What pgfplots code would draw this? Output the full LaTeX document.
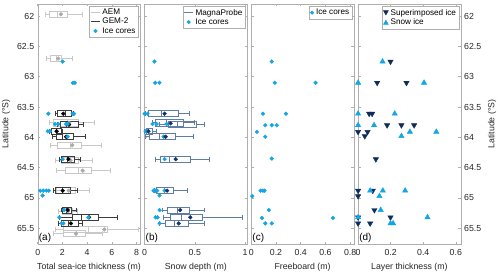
\documentclass[border=0pt]{standalone}
\usepackage{fontspec}
\setmainfont{Liberation Sans}
\usepackage{pgfplots}
\pgfplotsset{compat=1.18}
\usepgfplotslibrary{statistics}

\definecolor{aemc}{RGB}{200,200,200}
\definecolor{aemm}{RGB}{170,170,170}
\definecolor{gemc}{RGB}{60,60,60}
\definecolor{gemm}{RGB}{0,0,0}
\definecolor{icec}{RGB}{20,165,230}
\definecolor{mpc}{RGB}{95,125,165}
\definecolor{mpm}{RGB}{20,50,100}
\definecolor{sic}{RGB}{15,45,90}
\definecolor{axc}{RGB}{175,175,175}

\newcommand{\bx}[7]{\addplot[#1, line width=0.6pt, forget plot, boxplot prepared={draw position=#2, lower whisker=#3, lower quartile=#4, median=#5, upper quartile=#6, upper whisker=#7}] coordinates {};}

\pgfplotsset{
  panel/.style={
    scale only axis, width=102.6bp, height=240bp,
    anchor=south west,
    ymin=61.8, ymax=65.76, y dir=reverse,
    ytick={62,62.5,63,63.5,64,64.5,65,65.5},
    axis line style={axc}, tick style={axc, line width=0.5pt},
    tick align=inside, major tick length=2.5bp,
    every tick label/.append style={font=\fontsize{8.8}{10}\selectfont, text=black!85},
    label style={font=\fontsize{8.8}{10}\selectfont, text=black!85},
    xticklabel style={yshift=-1.5bp},
    xlabel style={yshift=-1.5bp},
    /pgf/number format/assume math mode=true,
    clip=false,
    boxplot/draw direction=x,
    boxplot/box extend=0.1,
    boxplot/whisker extend=0.08,
    xtick pos=both,
    legend style={at={(0.985,0.992)}, anchor=north east, draw=axc, fill=white,
      font=\fontsize{8.2}{9}\selectfont, inner sep=1pt, row sep=-2pt, legend cell align=left},
    legend image code/.code={\draw[#1] (0bp,0bp) -- (9bp,0bp);},
  },
  dots/.style={only marks, mark=*, mark size=1.9bp, color=#1, mark options={draw=#1, fill=#1}, forget plot},
}

\begin{document}
\begin{tikzpicture}
\useasboundingbox (0,0) rectangle (500bp,274bp);

% ---------------- (a) ----------------
\begin{axis}[panel, at={(37.7bp,30bp)}, xmin=0, xmax=8.3, xtick={0,2,4,6,8},
  xlabel={Total sea-ice thickness (m)}, ylabel={Latitude (°S)}, yticklabel pos=left]
\addlegendimage{aemc, line width=0.8pt}\addlegendentry{AEM}
\addlegendimage{gemc, line width=0.8pt}\addlegendentry{GEM-2}
\addlegendimage{only marks, mark=*, mark size=1.6bp, icec, legend image code/.code={\fill[icec] (4.5bp,0bp) circle (1.8bp);}}\addlegendentry{Ice cores}
% AEM
\bx{aemc}{61.97}{0.65}{0.94}{1.6}{2.39}{3.64}
\bx{aemc}{62.70}{0.67}{1.05}{1.5}{1.94}{2.83}
\bx{aemc}{63.76}{0.95}{1.26}{2.4}{3.28}{4.58}
\bx{aemc}{64.13}{1.05}{1.58}{2.6}{3.56}{5.17}
\bx{aemc}{64.38}{1.4}{1.9}{2.6}{3.3}{4.4}
\bx{aemc}{64.55}{1.53}{2.21}{3.3}{4.37}{5.9}
\bx{aemc}{64.88}{1.5}{2.0}{2.6}{3.02}{4.17}
\bx{aemc}{65.22}{1.7}{2.0}{2.4}{2.8}{3.2}
\bx{aemc}{65.52}{1.4}{2.07}{4.09}{5.63}{8.1}
\bx{aemc}{65.59}{1.3}{2.07}{3.1}{3.88}{5.2}
\addplot[dots=aemm] coordinates {(1.88,61.97) (1.66,62.70) (2.55,63.76) (2.80,64.13) (2.65,64.38) (3.64,64.55) (2.5,64.88) (2.45,65.22) (5.39,65.52) (3.1,65.59)};
% GEM-2
\bx{gemc}{63.61}{1.4}{1.58}{2.2}{2.69}{2.9}
\bx{gemc}{63.79}{1.6}{1.86}{2.3}{3.28}{3.69}
\bx{gemc}{63.90}{0.95}{1.13}{1.5}{1.88}{2.0}
\bx{gemc}{63.99}{1.2}{1.48}{2.0}{2.88}{3.82}
\bx{gemc}{64.36}{1.72}{1.88}{2.4}{2.93}{3.42}
\bx{gemc}{64.88}{1.3}{1.40}{2.0}{2.61}{3.2}
\bx{gemc}{65.20}{1.94}{2.02}{2.35}{2.69}{3.1}
\bx{gemc}{65.32}{1.78}{2.83}{3.56}{4.9}{6.4}
\bx{gemc}{65.42}{1.7}{1.94}{2.5}{3.28}{3.6}
\addplot[dots=gemm] coordinates {(2.07,63.61) (2.53,63.79) (1.53,63.90) (2.3,63.99) (2.48,64.36) (2.02,64.88) (2.43,65.20) (4.15,65.32) (2.69,65.42)};
% ice cores
\addplot[dots=icec] coordinates {(2.02,62.75) (2.85,63.10) (3.0,63.10) (0.86,63.61) (2.83,63.61) (2.94,63.61)
 (1.40,63.78) (1.67,63.78) (2.29,63.78) (2.43,63.78) (0.81,63.90) (0.99,63.90) (2.42,63.99) (2.02,64.36)
 (0.2,64.88) (0.45,64.88) (0.7,64.88) (0.9,64.88) (0.4,64.96) (2.13,65.20) (1.75,65.32) (4.1,65.32) (1.94,65.42) (2.07,65.42)};
\node[anchor=south west, font=\fontsize{10}{11}\selectfont, inner sep=1pt] at (axis description cs:0,0) {(a)};
\end{axis}

% ---------------- (b) ----------------
\begin{axis}[panel, at={(144.5bp,30bp)}, xmin=0, xmax=1.02, xtick={0,0.5,1},
  xlabel={Snow depth (m)}, yticklabels={}]
\addlegendimage{mpc, line width=0.8pt}\addlegendentry{MagnaProbe}
\addlegendimage{only marks, mark=*, icec, legend image code/.code={\fill[icec] (4.5bp,0bp) circle (1.8bp);}}\addlegendentry{Ice cores}
\bx{mpc}{63.61}{0.01}{0.04}{0.17}{0.34}{0.45}
\bx{mpc}{63.76}{0.08}{0.11}{0.22}{0.39}{0.50}
\bx{mpc}{63.79}{0.15}{0.24}{0.33}{0.51}{0.59}
\bx{mpc}{63.90}{0.0}{0.02}{0.04}{0.08}{0.12}
\bx{mpc}{63.99}{0.01}{0.05}{0.15}{0.31}{0.49}
\bx{mpc}{64.36}{0.11}{0.16}{0.25}{0.455}{0.64}
\bx{mpc}{64.88}{0.10}{0.115}{0.20}{0.29}{0.43}
\bx{mpc}{65.20}{0.18}{0.23}{0.33}{0.445}{0.59}
\bx{mpc}{65.32}{0.19}{0.26}{0.37}{0.57}{0.97}
\bx{mpc}{65.42}{0.15}{0.21}{0.30}{0.435}{0.59}
\addplot[dots=icec] coordinates {(0.099,62.75) (0.106,63.10) (0.149,63.10) (0.0,63.61) (0.03,63.61)
 (0.08,63.78) (0.12,63.78) (0.22,63.78) (0.01,63.90) (0.03,63.90) (0.19,63.99) (0.2,64.36)
 (0.09,64.88) (0.11,64.88) (0.125,64.88) (0.2,64.88) (0.149,64.96) (0.15,65.20) (0.11,65.32) (0.13,65.32) (0.15,65.42)};
\addplot[dots=mpm] coordinates {(0.20,63.61) (0.26,63.77) (0.04,63.90) (0.21,63.99) (0.31,64.36) (0.225,64.88) (0.355,65.20) (0.455,65.32) (0.34,65.42)};
\node[anchor=south west, font=\fontsize{10}{11}\selectfont, inner sep=1pt] at (axis description cs:0,0) {(b)};
\end{axis}

% ---------------- (c) ----------------
\begin{axis}[panel, at={(251.3bp,30bp)}, xmin=0, xmax=0.83, xtick={0,0.2,0.4,0.6,0.8},
  xlabel={Freeboard (m)}, yticklabels={}]
\addlegendimage{only marks, mark=*, icec, legend image code/.code={\fill[icec] (4.5bp,0bp) circle (1.8bp);}}\addlegendentry{Ice cores}
\addplot[dots=icec] coordinates {(0.166,62.75) (0.19,63.10) (0.52,63.10) (0.094,63.61) (0.28,63.61)
 (0.113,63.80) (0.166,63.80) (0.206,63.80) (0.045,63.91) (0.113,63.99) (0.166,64.35)
 (0.075,64.88) (0.094,64.88) (0.107,64.88) (0.008,64.97) (0.142,65.20) (0.086,65.33) (0.66,65.33) (0.113,65.42) (0.166,65.42)};
\node[anchor=south west, font=\fontsize{10}{11}\selectfont, inner sep=1pt] at (axis description cs:0,0) {(c)};
\end{axis}

% ---------------- (d) ----------------
\begin{axis}[panel, at={(358.1bp,30bp)}, xmin=0, xmax=0.63, xtick={0,0.2,0.4,0.6},
  xlabel={Layer thickness (m)}, ylabel={Latitude (°S)}, yticklabel pos=right]
\addlegendimage{only marks, legend image code/.code={\fill[sic] (2.5bp,2.2bp) -- (7.5bp,2.2bp) -- (5bp,-2.2bp) -- cycle;}}\addlegendentry{Superimposed ice}
\addlegendimage{only marks, legend image code/.code={\fill[icec] (2.5bp,-2.2bp) -- (7.5bp,-2.2bp) -- (5bp,2.2bp) -- cycle;}}\addlegendentry{Snow ice}
\addplot[only marks, mark=triangle*, mark size=3.1bp, color=sic, mark options={fill=sic, draw=sic, rotate=180}, forget plot] coordinates {
 (0.199,62.75) (0.117,63.10) (0.297,63.10) (0.068,63.61) (0.086,63.61) (0.178,63.80) (0.266,63.80) (0.344,63.80)
 (0.0,63.91) (0.058,63.91) (0.041,63.98) (0.109,64.36) (0.0,64.88) (0.09,64.88) (0.0,64.97) (0.1,65.20)
 (0.0,65.32) (0.199,65.32) (0.0,65.42) (0.074,65.42)};
\addplot[only marks, mark=triangle*, mark size=3.1bp, color=icec, mark options={fill=icec, draw=icec}, forget plot] coordinates {
 (0.15,62.75) (0.0,63.10) (0.405,63.10) (0.0,63.61) (0.225,63.61) (0.0,63.80) (0.098,63.80) (0.318,63.91) (0.48,63.91)
 (0.266,63.98) (0.074,64.88) (0.152,64.88) (0.289,64.88) (0.131,64.97) (0.139,65.20) (0.0,65.32) (0.426,65.32) (0.199,65.42) (0.215,65.42)};
\node[anchor=south west, font=\fontsize{10}{11}\selectfont, inner sep=1pt] at (axis description cs:0,0) {(d)};
\end{axis}
\end{tikzpicture}
\end{document}
